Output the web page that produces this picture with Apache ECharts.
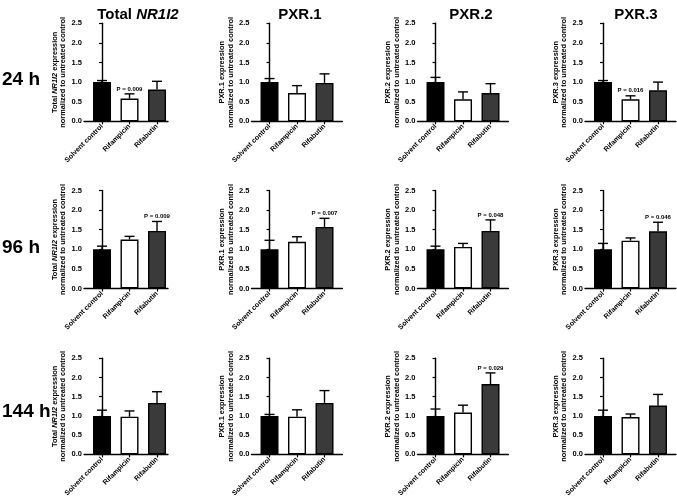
<!DOCTYPE html>
<html><head><meta charset="utf-8">
<script src="https://cdn.jsdelivr.net/npm/echarts@6/dist/echarts.min.js"></script>
<style>html,body{margin:0;padding:0;background:#fff}#c{width:677px;height:499px}</style>
</head><body><div id="c"></div>
<script>
const categories = ['Solvent control', 'Rifampicin', 'Rifabutin'];
const genes = ['Total {i|NR1I2}', 'PXR.1', 'PXR.2', 'PXR.3'];
const yNames = ['Total {i|NR1I2} expression', 'PXR.1 expression', 'PXR.2 expression', 'PXR.3 expression'];
const times = ['24 h', '96 h', '144 h'];
const yTicks = [0, 0.5, 1.0, 1.5, 2.0, 2.5];

// means per gene (Total, PXR.1, PXR.2, PXR.3), categories in order
const mean_24h = [[1.00, 0.58, 0.81], [1.00, 0.72, 0.98], [1.00, 0.56, 0.72], [1.00, 0.56, 0.79]];
const upper_24h = [[1.04, 0.70, 1.02], [1.09, 0.91, 1.21], [1.12, 0.75, 0.96], [1.04, 0.65, 1.00]];
const pval_24h = [['', 'P = 0.009', ''], ['', '', ''], ['', '', ''], ['', 'P = 0.016', '']];

const mean_96h = [[1.00, 1.25, 1.47], [1.00, 1.19, 1.57], [1.00, 1.06, 1.47], [1.00, 1.22, 1.46]];
const upper_96h = [[1.08, 1.33, 1.71], [1.23, 1.32, 1.79], [1.08, 1.15, 1.75], [1.15, 1.29, 1.69]];
const pval_96h = [['', '', 'P = 0.009'], ['', '', 'P = 0.007'], ['', '', 'P = 0.048'], ['', '', 'P = 0.046']];

const mean_144h = [[1.00, 0.98, 1.34], [1.00, 0.98, 1.34], [1.00, 1.09, 1.83], [1.00, 0.97, 1.27]];
const upper_144h = [[1.15, 1.13, 1.63], [1.04, 1.16, 1.66], [1.18, 1.28, 2.12], [1.15, 1.05, 1.56]];
const pval_144h = [['', '', ''], ['', '', ''], ['', '', 'P = 0.029'], ['', '', '']];

const means = [mean_24h, mean_96h, mean_144h];
const uppers = [upper_24h, upper_96h, upper_144h];
const pvals = [pval_24h, pval_96h, pval_144h];

// layout
const FONT = '"Liberation Sans", Arial, sans-serif';
const colAxisX = [84, 251.5, 417.5, 585];
const colXMax = [2.4, 2.65, 2.65, 2.65];
const xMin = -0.655;
const band = 27.5;
const rowTop = [23.3, 190.5, 358.3];
const plotH = 98;
const barColors = ['#000000', '#ffffff', '#3a3a3a'];

const grids = [], xAxes = [], yAxes = [], series = [];
let gi = 0;
for (let r = 0; r < 3; r++) {
  for (let c = 0; c < 4; c++) {
    grids.push({left: colAxisX[c], top: rowTop[r], width: (colXMax[c] - xMin) * band, height: plotH, containLabel: false});
    xAxes.push({
      type: 'value', gridIndex: gi, min: xMin, max: colXMax[c],
      splitLine: {show: false},
      axisLine: {show: true, lineStyle: {color: '#000', width: 1.4}},
      axisTick: {show: true, customValues: [0, 1, 2], length: 3, lineStyle: {color: '#000', width: 1.2}},
      axisLabel: {customValues: [0, 1, 2], rotate: 45, margin: 4, color: '#000', fontSize: 7, fontWeight: 'bold', fontFamily: FONT,
        formatter: v => categories[Math.round(v)] || ''}
    });
    yAxes.push({
      type: 'value', gridIndex: gi, min: 0, max: 2.5, interval: 0.5,
      splitLine: {show: false},
      axisLine: {show: true, lineStyle: {color: '#000', width: 1.4}},
      axisTick: {show: true, length: 3, lineStyle: {color: '#000', width: 1.2}},
      axisLabel: {margin: 2, color: '#000', fontSize: 7.5, fontWeight: 'bold', fontFamily: FONT, formatter: v => v.toFixed(1)},
      name: yNames[c] + '\nnormalized to untreated control',
      nameLocation: 'middle', nameGap: 11, nameRotate: 90,
      nameTextStyle: {color: '#000', fontSize: 7.4, fontWeight: 'bold', fontFamily: FONT, lineHeight: 8.5,
        rich: {i: {fontStyle: 'italic', fontWeight: 'bold', fontSize: 7.4, fontFamily: FONT, color: '#000', lineHeight: 8.5}}}
    });
    const m = means[r][c], u = uppers[r][c], p = pvals[r][c];
    series.push({
      type: 'bar', xAxisIndex: gi, yAxisIndex: gi, barWidth: 18,
      data: m.map((v, i) => ({value: [i, v], itemStyle: {color: barColors[i], borderColor: '#000', borderWidth: 1.4}})),
      silent: true, animation: false
    });
    series.push({
      type: 'custom', xAxisIndex: gi, yAxisIndex: gi, z: 5, animation: false, silent: true,
      data: m.map((v, i) => [i, v, u[i]]),
      renderItem: (function (pl) {
        return function (params, api) {
          const x = api.value(0), mv = api.value(1), uv = api.value(2);
          const p0 = api.coord([x, mv]), p1 = api.coord([x, uv]);
          const style = {stroke: '#000', lineWidth: 1.4};
          const ch = [
            {type: 'line', shape: {x1: p0[0], y1: p0[1], x2: p1[0], y2: p1[1]}, style: style},
            {type: 'line', shape: {x1: p1[0] - 5, y1: p1[1], x2: p1[0] + 5, y2: p1[1]}, style: style}
          ];
          const t = pl[params.dataIndex];
          if (t) ch.push({type: 'text', x: p1[0], y: p1[1] - 5,
            style: {text: t, fill: '#000', font: 'bold 6px ' + FONT, textAlign: 'center', textVerticalAlign: 'middle'}});
          return {type: 'group', children: ch};
        };
      })(p)
    });
    gi++;
  }
}

const titleX = [138, 300, 471, 636];
const rowY = [80, 248, 412];
const graphic = [];
genes.forEach((g, c) => graphic.push({type: 'text', x: titleX[c], y: 15,
  style: {text: g, fill: '#000', font: 'bold 15px ' + FONT, textAlign: 'center', textVerticalAlign: 'middle',
    rich: {i: {fontStyle: 'italic', fontWeight: 'bold', fontSize: 15, fontFamily: FONT, fill: '#000'}}}}));
times.forEach((t, r) => graphic.push({type: 'text', x: 2, y: rowY[r],
  style: {text: t, fill: '#000', font: 'bold 19px ' + FONT, textAlign: 'left', textVerticalAlign: 'middle'}}));

const chart = echarts.init(document.getElementById('c'), null, {renderer: 'canvas'});
chart.setOption({animation: false, backgroundColor: '#fff', grid: grids, xAxis: xAxes, yAxis: yAxes, series: series, graphic: graphic});
</script></body></html>
